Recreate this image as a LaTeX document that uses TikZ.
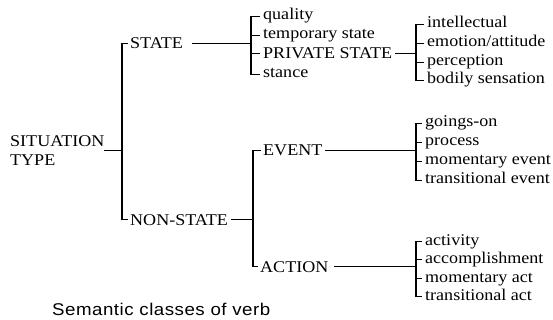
\documentclass[tikz,border=0pt]{standalone}
\usepackage{fontspec}
\setmainfont{Liberation Serif}[FakeStretch=1.1]
\newfontfamily\capfont{Liberation Sans}[FakeStretch=1.1,LetterSpace=3]
\begin{document}
\begin{tikzpicture}[x=1pt,y=-1pt,
  every node/.style={inner sep=0pt, font=\fontsize{16.4}{19}\selectfont},
  capn/.style={anchor=base west, text height=11pt, text depth=0pt},
  itm/.style={anchor=base west, text height=7pt, text depth=0pt},
  ln/.style={line width=1.2pt, line cap=rect}]
\useasboundingbox (0,0) rectangle (553,320);
% nodes
\node[align=left, anchor=west] (sit) at (10,150.5) {SITUATION\\TYPE};
\node[capn] (st) at (130,49) {STATE};
\node[capn] (ns) at (130,225) {NON-STATE};
\node[capn] (ev) at (263,156) {EVENT};
\node[capn] (ac) at (260,272) {ACTION};
\node[itm]  (q1) at (263,20) {quality};
\node[itm]  (q2) at (263,39) {temporary state};
\node[capn] (q3) at (263,59) {PRIVATE STATE};
\node[itm]  (q4) at (263,78) {stance};
\node[itm]  (p1) at (427,28) {intellectual};
\node[itm]  (p2) at (427,47) {emotion/attitude};
\node[itm]  (p3) at (427,66) {perception};
\node[itm]  (p4) at (427,84) {bodily sensation};
\node[itm]  (e1) at (425,127) {goings-on};
\node[itm]  (e2) at (425,146) {process};
\node[itm]  (e3) at (425,165) {momentary event};
\node[itm]  (e4) at (425,184) {transitional event};
\node[itm]  (a1) at (425,245) {activity};
\node[itm]  (a2) at (425,263) {accomplishment};
\node[itm]  (a3) at (425,282) {momentary act};
\node[itm]  (a4) at (425,300) {transitional act};
\node[anchor=base west, font=\capfont\fontsize{17}{19}\selectfont] (cap) at (52,315) {Semantic classes of verb};
% bracket positions
\coordinate (bm) at (122,0);
\coordinate (bs) at (251,0);
\coordinate (bp) at (416,0);
\coordinate (bn) at (253,0);
\coordinate (be) at (416,0);
\coordinate (ba) at (416,0);
% situation type
\draw[ln] (sit.east) -- (bm |- sit.east);
\draw[ln] ([xshift=-3pt]st.west) -| (bm |- ns.west) -- ([xshift=-3pt]ns.west);
% state
\draw[ln] ([xshift=10pt]st.east) -- (bs |- st.east);
\draw[ln] ([xshift=-4pt]q1.west) -| (bs |- q4.west) -- ([xshift=-4pt]q4.west);
\draw[ln] (bs |- q2.west) -- ([xshift=-4pt]q2.west);
\draw[ln] (bs |- q3.west) -- ([xshift=-4pt]q3.west);
% private state
\draw[ln] ([xshift=3pt]q3.east) -- (bp |- q3.east);
\draw[ln] ([xshift=-4pt]p1.west) -| (bp |- p4.west) -- ([xshift=-4pt]p4.west);
\draw[ln] (bp |- p2.west) -- ([xshift=-4pt]p2.west);
\draw[ln] (bp |- p3.west) -- ([xshift=-4pt]p3.west);
% non-state
\draw[ln] ([xshift=3pt]ns.east) -- (bn |- ns.east);
\draw[ln] ([xshift=-3pt]ev.west) -| (bn |- ac.west) -- ([xshift=-3pt]ac.west);
% event
\draw[ln] ([xshift=3pt]ev.east) -- (be |- ev.east);
\draw[ln] ([xshift=-4pt]e1.west) -| (be |- e4.west) -- ([xshift=-4pt]e4.west);
\draw[ln] (be |- e2.west) -- ([xshift=-4pt]e2.west);
\draw[ln] (be |- e3.west) -- ([xshift=-4pt]e3.west);
% action
\draw[ln] ([xshift=6pt]ac.east) -- (ba |- ac.east);
\draw[ln] ([xshift=-4pt]a1.west) -| (ba |- a4.west) -- ([xshift=-4pt]a4.west);
\draw[ln] (ba |- a2.west) -- ([xshift=-4pt]a2.west);
\draw[ln] (ba |- a3.west) -- ([xshift=-4pt]a3.west);
\end{tikzpicture}
\end{document}
